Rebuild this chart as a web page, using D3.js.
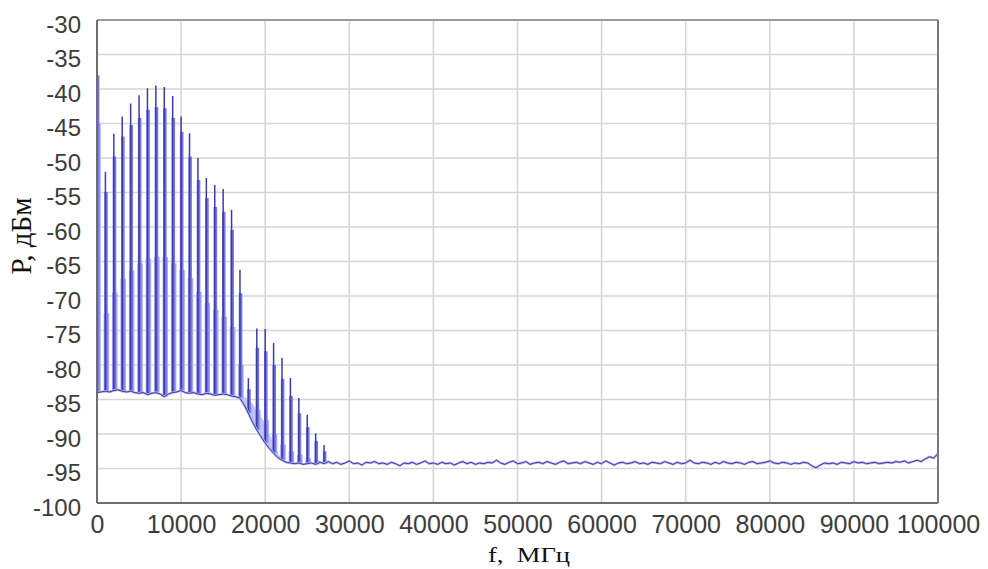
<!DOCTYPE html>
<html><head><meta charset="utf-8">
<script src="https://cdn.jsdelivr.net/npm/d3@7"></script>
<style>body{margin:0;background:#fff}svg{display:block}</style>
</head><body><svg id="c" width="988" height="569"></svg>
<script>
// ---- data ----
const harmonicFreq = [0,1000,2000,3000,4000,5000,6000,7000,8000,9000,10000,11000,12000,13000,14000,
  15000,16000,17000,18000,19000,20000,21000,22000,23000,24000,25000,26000,27000];
const peakDb  = [-38.0,-52.0,-46.5,-44.0,-42.1,-40.9,-39.9,-39.5,-39.7,-41.0,-44.0,-46.4,-50.0,-52.9,-53.9,
  -54.5,-57.5,-66.2,-81.9,-74.7,-74.8,-76.8,-79.0,-81.9,-84.8,-87.2,-89.9,-91.6];
const skirtDb = [-38.0,-54.9,-49.8,-46.9,-45.2,-44.2,-43.0,-42.6,-42.8,-44.2,-46.2,-49.8,-53.2,-55.8,-57.1,
  -57.8,-60.4,-69.6,-83.5,-77.5,-78.0,-80.0,-82.0,-84.5,-87.0,-89.0,-91.0,-92.5];
const humpDb  = [-45.0,-72.5,-69.5,-67.5,-66.3,-65.3,-64.6,-64.3,-64.4,-65.3,-66.2,-67.4,-69.4,-71.0,-72.0,
  -73.0,-74.5,-80.0,-86.0,-86.5,-88.0,-90.0,-91.5,-92.5,-93.0,-93.5,-93.8,-94.0];
// floor sampled every 500 MHz from 0 to 27000
const floorDb = [-84.0,-83.9,-83.8,-83.9,-83.7,-83.6,-83.8,-83.9,-83.8,-84.0,
  -84.1,-84.0,-84.3,-84.1,-84.0,-84.2,-84.6,-84.2,-84.0,-83.9,
  -83.7,-84.0,-84.1,-84.0,-84.2,-84.3,-84.1,-84.2,-84.4,-84.3,
  -84.2,-84.3,-84.5,-84.6,-84.8,-85.8,-87.0,-88.3,-89.4,-90.4,
  -91.3,-92.1,-92.8,-93.4,-93.8,-94.1,-94.2,-94.3,-94.2,-94.4,
  -94.3,-94.2,-94.4,-94.1,-94.3];
// noise floor every 500 MHz from 27500 to 100000
const noiseDb = [-94.0,-94.3,-94.1,-94.4,-94.2,-93.9,-94.3,-94.2,-94.5,-94.1,
  -94.2,-94.0,-94.3,-94.2,-94.4,-94.1,-94.3,-94.6,-94.2,-94.3,
  -94.1,-94.4,-94.2,-93.9,-94.3,-94.2,-94.4,-94.1,-94.3,-94.2,
  -94.5,-94.2,-94.0,-94.3,-94.1,-94.4,-94.2,-94.3,-94.1,-94.2,
  -93.8,-94.2,-94.4,-94.1,-93.9,-94.3,-94.2,-94.0,-94.4,-94.2,
  -94.1,-94.3,-94.0,-94.2,-94.4,-94.1,-93.9,-94.3,-94.2,-94.1,
  -94.3,-94.0,-94.2,-94.4,-94.1,-94.3,-93.9,-94.2,-94.5,-94.2,
  -94.1,-94.3,-94.2,-94.0,-94.3,-94.2,-94.4,-94.1,-94.2,-94.3,
  -94.0,-94.2,-94.4,-94.1,-94.3,-94.2,-93.8,-94.2,-94.3,-94.1,
  -94.2,-94.4,-94.1,-94.3,-94.0,-94.2,-94.3,-94.1,-94.2,-94.4,
  -94.1,-94.0,-94.3,-94.2,-94.1,-93.9,-94.2,-94.3,-94.1,-94.2,
  -94.4,-94.2,-94.3,-94.1,-94.2,-94.6,-94.9,-94.5,-94.2,-94.3,
  -94.2,-94.4,-94.1,-94.2,-94.3,-94.0,-94.2,-94.1,-94.3,-94.2,
  -94.1,-94.3,-94.2,-94.1,-94.2,-94.0,-94.1,-93.9,-94.2,-94.0,
  -93.8,-94.0,-93.6,-93.3,-93.5,-92.8];
// light haze in the roll-off region
const hazeFreq = [17000,17500,18000,18500,19000,19500,20000,20500,21000,21500,22000];
const hazeDb   = [-84.8,-84.6,-85.0,-85.6,-86.5,-87.5,-88.6,-90.0,-91.4,-92.7,-93.8];
const xTicks = [0,10000,20000,30000,40000,50000,60000,70000,80000,90000,100000];
const yTicks = [-100,-95,-90,-85,-80,-75,-70,-65,-60,-55,-50,-45,-40,-35,-30];
const xTitle = "f,  МГц";
const yTitle = "P, дБм";

// ---- layout ----
const svg = d3.select("#c");
const L = 97, T = 20, R = 938, B = 503;
const x = d3.scaleLinear().domain([0, 100000]).range([L, R]);
const y = d3.scaleLinear().domain([-100, -30]).range([B, T]);

svg.append("defs").append("clipPath").attr("id","pc")
  .append("rect").attr("x",L).attr("y",T).attr("width",R-L).attr("height",B-T);

// grid
const g = svg.append("g");
g.selectAll(".vg").data(xTicks).join("line")
  .attr("x1", d=>x(d)).attr("x2", d=>x(d)).attr("y1", T).attr("y2", B)
  .attr("stroke", "#d6d6d6").attr("stroke-width", 1.6);
g.selectAll(".hg").data(yTicks).join("line")
  .attr("y1", d=>y(d)).attr("y2", d=>y(d)).attr("x1", L).attr("x2", R)
  .attr("stroke", "#d6d6d6").attr("stroke-width", 1.6);

// spectrum
const sampleFreq = d3.range(0, 100001, 500);
const spectrumDb = floorDb.concat(noiseDb);
const spectrum = sampleFreq.map((f,i)=>({f, v: spectrumDb[i]}));
const baseAt = f => spectrumDb[Math.round(f/500)];
const plot = svg.append("g").attr("clip-path","url(#pc)");

plot.append("path")
  .datum(hazeFreq.map((f,i)=>({f, v:hazeDb[i]})))
  .attr("d", d3.area().x(d=>x(d.f)).y0(d=>y(baseAt(d.f))).y1(d=>y(d.v)))
  .attr("fill", "#c4c4f4");

const harm = harmonicFreq.map((f,i)=>({f, peak:peakDb[i], skirt:skirtDb[i], hump:humpDb[i], base: baseAt(f)}));
plot.selectAll(".hump").data(harm).join("line")
  .attr("x1", d=>x(d.f)+1).attr("x2", d=>x(d.f)+1)
  .attr("y1", d=>y(d.base)).attr("y2", d=>y(d.hump))
  .attr("stroke", "#a9a9f2").attr("stroke-width", 5.5);
plot.selectAll(".skirt").data(harm).join("line")
  .attr("x1", d=>x(d.f)+0.6).attr("x2", d=>x(d.f)+0.6)
  .attr("y1", d=>y(d.base)).attr("y2", d=>y(d.skirt))
  .attr("stroke", "#7777e4").attr("stroke-width", 3.6);
plot.selectAll(".core").data(harm).join("line")
  .attr("x1", d=>x(d.f)).attr("x2", d=>x(d.f))
  .attr("y1", d=>y(d.base)).attr("y2", d=>y(d.peak))
  .attr("stroke", "#3c3ca8").attr("stroke-width", 1.5);

const line = d3.line().x(d=>x(d.f)).y(d=>y(d.v));
plot.append("path").datum(spectrum).attr("d", line)
  .attr("fill","none").attr("stroke","#b4b4f0").attr("stroke-width",2.4);
plot.append("path").datum(spectrum).attr("d", line)
  .attr("fill","none").attr("stroke","#3a3aa6").attr("stroke-width",1);

// frame
svg.append("line").attr("x1",L).attr("x2",R).attr("y1",T).attr("y2",T).attr("stroke","#9a9a9a").attr("stroke-width",2.2);
svg.append("line").attr("x1",R).attr("x2",R).attr("y1",T).attr("y2",B).attr("stroke","#7a7a7a").attr("stroke-width",2);
svg.append("line").attr("x1",L).attr("x2",R).attr("y1",B).attr("y2",B).attr("stroke","#6e6e6e").attr("stroke-width",2);
svg.append("line").attr("x1",L).attr("x2",L).attr("y1",T).attr("y2",B).attr("stroke","#6e6e6e").attr("stroke-width",2);

// axes (labels only, no tick marks)
const fmt = d => String(d);
const yAxis = d3.axisLeft(y).tickValues(yTicks).tickSize(0).tickPadding(16).tickFormat(fmt);
const ya = svg.append("g").attr("transform",`translate(${L},0)`).call(yAxis);
ya.select(".domain").remove();
ya.selectAll("text").attr("font-family","'Liberation Sans', Arial, sans-serif")
  .attr("font-size",24).attr("fill","#3c3c3c").attr("dy","0.5em");

const xAxis = d3.axisBottom(x).tickValues(xTicks).tickSize(0).tickPadding(12).tickFormat(fmt);
const xa = svg.append("g").attr("transform",`translate(0,${B})`).call(xAxis);
xa.select(".domain").remove();
xa.selectAll("text").attr("font-family","'Liberation Sans', Arial, sans-serif")
  .attr("font-size",25).attr("fill","#3c3c3c");

// titles
svg.append("text").attr("x",488).attr("y",562)
  .attr("font-family","'Liberation Serif', 'Times New Roman', serif").attr("font-size",22)
  .attr("textLength",82).attr("lengthAdjust","spacingAndGlyphs")
  .attr("fill","#111").style("white-space","pre").text(xTitle);
svg.append("text").attr("transform","translate(31,236) rotate(-90)")
  .attr("text-anchor","middle")
  .attr("font-family","'Liberation Serif', 'Times New Roman', serif").attr("font-size",29)
  .attr("fill","#111").text(yTitle);
</script></body></html>
